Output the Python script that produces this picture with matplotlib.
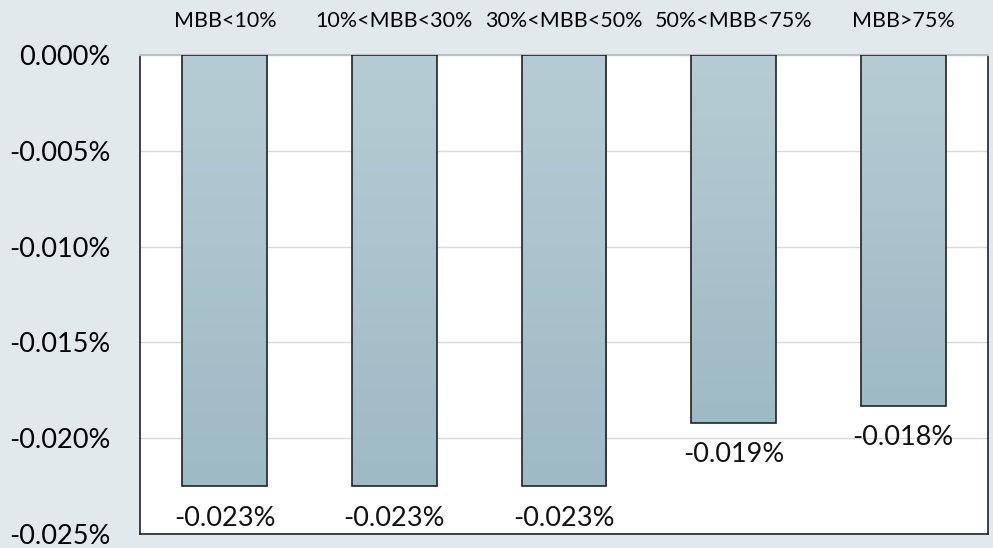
import numpy as np
import matplotlib.pyplot as plt
from decimal import Decimal, ROUND_HALF_UP

# MBB buckets and average effect (in %)
categories = ['MBB<10%', '10%<MBB<30%', '30%<MBB<50%', '50%<MBB<75%', 'MBB>75%']
values = [-0.0225, -0.0225, -0.0225, -0.0192, -0.0183]
yticks = [0.0, -0.005, -0.010, -0.015, -0.020, -0.025]

bg = '#e1e9ed'
top_col = np.array([0xb6, 0xcc, 0xd4]) / 255
bot_col = np.array([0x9e, 0xba, 0xc5]) / 255

plt.rcParams['font.family'] = ['Lato', 'DejaVu Sans']


def pct(v):
    d = Decimal(str(v)).quantize(Decimal('0.001'), rounding=ROUND_HALF_UP)
    return f'{d}%'


fig = plt.figure(figsize=(9.93, 5.48), dpi=100, facecolor=bg)
ax = fig.add_axes([0.141, 0.0255, 0.854, 0.874])
ax.set_facecolor('white')

x = np.arange(len(categories))
bars = ax.bar(x, values, width=0.5, color='none', edgecolor='#222222', linewidth=1.2, zorder=3)

# vertical gradient inside each bar
grad = np.linspace(0, 1, 256)[:, None, None]
img = top_col * (1 - grad) + bot_col * grad
for b in bars:
    x0, w, h = b.get_x(), b.get_width(), b.get_height()
    im = ax.imshow(img, extent=[x0, x0 + w, h, 0], aspect='auto', zorder=2,
                   interpolation='bilinear')
    im.set_clip_path(b)

for xi, v in zip(x, values):
    ax.annotate(pct(v), (xi, v), xytext=(0, -14), textcoords='offset points',
                ha='center', va='top', fontsize=19.5, color='#111111')

ax.set_xlim(-0.5, len(categories) - 0.5)
ax.set_ylim(-0.025, 0)
ax.set_yticks(yticks)
ax.set_yticklabels([f'{t:.3f}%' for t in yticks], fontsize=19.5)
ax.tick_params(axis='y', length=0, pad=21)
ax.yaxis.grid(True, color='#d9d9d9', linewidth=1, zorder=0)

ax.xaxis.tick_top()
ax.set_xticks(x)
ax.set_xticklabels(categories, fontsize=15.5)
ax.tick_params(axis='x', length=0, pad=17)

for side in ['left', 'right', 'bottom']:
    ax.spines[side].set_color('#222222')
    ax.spines[side].set_linewidth(1.2)
ax.spines['top'].set_color('#bfbfbf')
ax.spines['top'].set_linewidth(1.5)

fig.savefig('out.png', dpi=100, facecolor=bg)
